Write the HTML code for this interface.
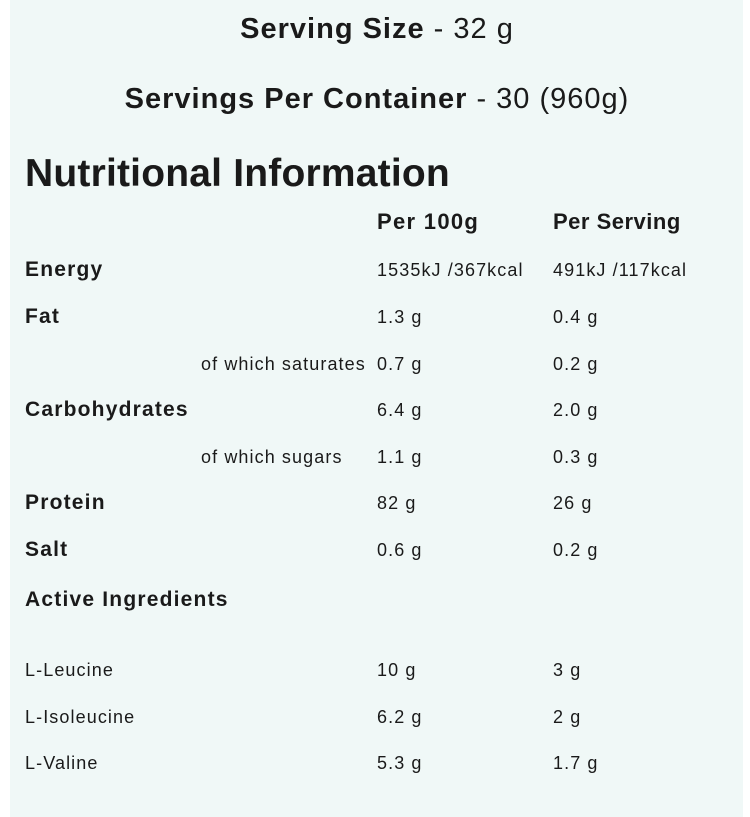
<!DOCTYPE html>
<html><head><meta charset="utf-8"><style>
body{margin:0;width:750px;height:817px;background:#fff;position:relative;overflow:hidden;font-family:"Liberation Sans",sans-serif;color:#1a1a1a}
.panel{position:absolute;left:10px;top:0;width:733px;height:817px;background:#f0f8f7}
.t{position:absolute;white-space:nowrap;line-height:30px;height:30px}
.c{left:0;width:754px;text-align:center;letter-spacing:1px}
.b{font-weight:bold}
.l{font-size:21px;font-weight:bold;letter-spacing:1.2px}
.v{font-size:18px;letter-spacing:1.1px}
</style></head><body>
<div class="panel"></div>
<div class="t c" style="top:14px;font-size:29px"><b>Serving Size</b> - 32 g</div>
<div class="t c" style="top:84px;font-size:29px"><b>Servings Per Container</b> - 30 (960g)</div>
<div class="t b" style="left:25px;top:157px;font-size:39px;line-height:34px;letter-spacing:0.2px">Nutritional Information</div>
<div class="t b" style="left:377px;top:207px;font-size:22px;letter-spacing:1.3px">Per 100g</div>
<div class="t b" style="left:553px;top:207px;font-size:22px;letter-spacing:0.5px">Per Serving</div>

<div class="t l" style="left:25px;top:255px">Energy</div>
<div class="t v" style="left:377px;top:255px">1535kJ /367kcal</div>
<div class="t v" style="left:553px;top:255px">491kJ /117kcal</div>

<div class="t l" style="left:25px;top:302px">Fat</div>
<div class="t v" style="left:377px;top:302px">1.3 g</div>
<div class="t v" style="left:553px;top:302px">0.4 g</div>

<div class="t v" style="left:201px;top:349px">of which saturates</div>
<div class="t v" style="left:377px;top:349px">0.7 g</div>
<div class="t v" style="left:553px;top:349px">0.2 g</div>

<div class="t l" style="left:25px;top:395px">Carbohydrates</div>
<div class="t v" style="left:377px;top:395px">6.4 g</div>
<div class="t v" style="left:553px;top:395px">2.0 g</div>

<div class="t v" style="left:201px;top:442px">of which sugars</div>
<div class="t v" style="left:377px;top:442px">1.1 g</div>
<div class="t v" style="left:553px;top:442px">0.3 g</div>

<div class="t l" style="left:25px;top:488px">Protein</div>
<div class="t v" style="left:377px;top:488px">82 g</div>
<div class="t v" style="left:553px;top:488px">26 g</div>

<div class="t l" style="left:25px;top:535px">Salt</div>
<div class="t v" style="left:377px;top:535px">0.6 g</div>
<div class="t v" style="left:553px;top:535px">0.2 g</div>

<div class="t l" style="left:25px;top:585px">Active Ingredients</div>

<div class="t v" style="left:25px;top:655px">L-Leucine</div>
<div class="t v" style="left:377px;top:655px">10 g</div>
<div class="t v" style="left:553px;top:655px">3 g</div>

<div class="t v" style="left:25px;top:702px">L-Isoleucine</div>
<div class="t v" style="left:377px;top:702px">6.2 g</div>
<div class="t v" style="left:553px;top:702px">2 g</div>

<div class="t v" style="left:25px;top:748px">L-Valine</div>
<div class="t v" style="left:377px;top:748px">5.3 g</div>
<div class="t v" style="left:553px;top:748px">1.7 g</div>
</body></html>
